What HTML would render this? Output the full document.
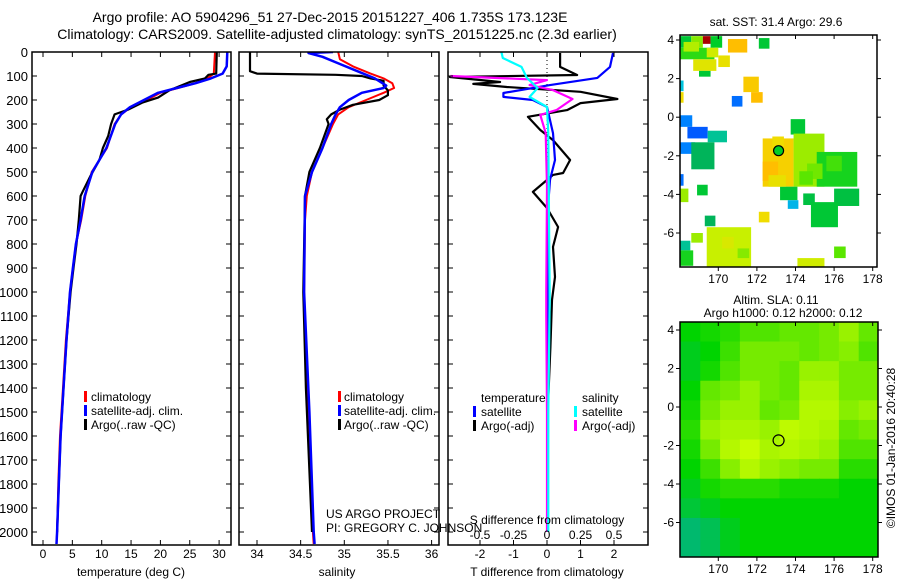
<!DOCTYPE html>
<html><head><meta charset="utf-8"><style>
html,body{margin:0;padding:0;background:#fff;}
svg{display:block;font-family:"Liberation Sans",Arial,sans-serif;}
text{fill:#000;}
</style></head><body>
<svg id="fig" width="900" height="580" viewBox="0 0 900 580" xmlns="http://www.w3.org/2000/svg">
<defs>
<clipPath id="c1"><rect x="32" y="52" width="199" height="493"/></clipPath>
<clipPath id="c2"><rect x="239" y="52" width="200" height="493"/></clipPath>
<clipPath id="c3"><rect x="448" y="52" width="200" height="493"/></clipPath>
<clipPath id="c4"><rect x="680" y="35" width="197" height="232"/></clipPath>
<clipPath id="c5"><rect x="680" y="322" width="198" height="235"/></clipPath>
</defs>
<text x="330" y="22" font-size="14" text-anchor="middle">Argo profile: AO 5904296_51 27-Dec-2015 20151227_406 1.735S 173.123E</text>
<text x="337" y="39" font-size="14" text-anchor="middle">Climatology: CARS2009. Satellite-adjusted climatology: synTS_20151225.nc (2.3d earlier)</text>
<g id="g1"></g>
<g id="g2"></g>
<g id="g3"></g>
<g id="g4"></g>
<g id="g5"></g>
</svg>
<script>
// ---------- data ----------
const depthTicks = [0,100,200,300,400,500,600,700,800,900,1000,1100,1200,1300,1400,1500,1600,1700,1800,1900,2000];
const tempTicks = [0,5,10,15,20,25,30];
const salTicks = [34,34.5,35,35.5,36];
const tdiffTicks = [-2,-1,0,1,2];
const sdiffTicks = [-0.5,-0.25,0,0.25,0.5];
const sdiffTickLabels = ["-0.5","-0.25","0","0.25","0.5"];

const tClimDepth = [0,90,110,130,150,170,200,230,260,300,400,500,600,700,800,900,1000,1200,1400,1600,1800,2000,2050];
const tClim = [29.3,29.1,28,26,23,20,17.7,15,13.3,12.2,10.9,8.3,7.2,6.5,5.6,5.1,4.6,3.9,3.4,2.9,2.6,2.4,2.3];
const tSatDepth = [0,60,90,110,130,150,170,200,230,260,300,400,500,600,700,800,900,1000,1200,1400,1600,1800,2000,2050];
const tSat = [31.4,31.3,30.6,28.6,26,22.8,19.6,17.2,14.8,13.3,12.3,10.8,8.4,7.1,6.4,5.6,5.1,4.6,4.0,3.5,3.0,2.7,2.4,2.3];
const tArgoDepth = [0,90,95,110,125,140,160,190,210,240,260,300,350,400,450,520,580,600,700,800,900,1000,1200,1400,1600,1800,2000];
const tArgo = [29.6,29.5,28.2,27.6,25,23.5,21.5,19.6,17,14.5,12.2,11.6,11.1,10.2,9.6,8.0,6.8,6.4,6.1,5.7,5.2,4.7,4.0,3.5,3.0,2.7,2.4];

const sClimDepth = [0,30,60,90,110,130,150,170,200,230,260,300,400,500,600,700,1000,1400,1600,1800,2000,2050];
const sClim = [34.93,34.95,35.1,35.3,35.45,35.55,35.57,35.45,35.25,35.05,34.93,34.87,34.75,34.63,34.57,34.55,34.54,34.57,34.6,34.61,34.64,34.65];
const sSatDepth = [0,4,20,50,80,110,140,150,170,200,230,260,300,400,500,600,1000,1500,2000,2050];
const sSat = [34.87,34.59,34.75,34.95,35.15,35.35,35.48,35.45,35.2,35.05,34.95,34.9,34.85,34.75,34.63,34.55,34.54,34.6,34.65,34.66];
const sArgoDepth = [0,80,90,95,100,110,120,140,160,180,200,220,240,260,280,300,400,500,600,1000,1400,2000];
const sArgo = [33.92,33.92,34.0,34.9,35.2,35.3,35.45,35.45,35.5,35.5,35.4,35.1,34.95,34.85,34.8,34.82,34.72,34.6,34.55,34.53,34.56,34.63];

const dtArgoDepth = [4,62,96,104,125,133,146,166,196,213,242,270,325,367,450,504,512,583,650,729,812,937,1033,1230,1500,2000];
const dtArgo = [0.39,0.39,0.9,-2.9,-1.4,-2.2,-1.2,1.0,2.1,1.0,0.6,-0.57,-0.2,0.18,0.69,0.48,0.18,-0.42,0,0.33,0.18,0.24,0.15,0.1,0.02,0.02];
const dtSatDepth = [4,62,108,138,171,187,200,229,338,450,533,646,1000,1500,2000];
const dtSat = [1.97,1.88,1.5,0.09,-1.3,-1.3,-0.42,0,0.18,0.24,0.09,0.03,0.02,0.03,0.02];
const dsArgoDepth = [100,117,138,158,196,242,262,338,562,1000,1100,1500,2000];
const dsArgo = [-0.72,0,-0.13,0.04,0.19,0.07,-0.05,-0.01,0,-0.005,-0.005,0,0];
const dsSatDepth = [0,25,62,108,150,187,229,338,1033,1500,2000];
const dsSat = [-0.34,-0.33,-0.19,-0.15,-0.07,-0.13,0,0.01,0.02,0.01,0.01];

// SST map patches: [lon_left, lat_top, width_deg, height_deg, sst]
const sstLon = [168.0,168.6,169.2,169.6,168.0,168.7,170.0,169.0,170.5,172.1,171.3,171.7,170.7,168.0,168.0,168.0,168.4,169.45,168.0,168.6,168.0,168.0,168.9,169.3,168.0,168.0,168.6,169.4,172.1,174.1,176.0,172.3,172.3,173.75,173.9,175.1,173.2,173.6,174.4,176.0,174.8,168.2,169.4,172.6,174.6,170.2,171.0,172.8,174.2,175.6];
const sstLat = [4.2,4.2,4.2,4.2,3.6,3.0,3.2,2.4,4.05,4.1,2.1,1.3,1.1,1.9,1.3,0.1,-0.5,-0.7,-1.3,-1.3,-2.95,-3.7,-3.5,-5.1,-6.4,-6.9,-6.0,-5.7,-4.9,-7.3,-6.7,-1.1,-2.3,-0.1,-0.85,-1.8,-3.6,-4.3,-3.95,-3.7,-4.4,3.9,3.6,-3.0,-2.4,-6.2,-6.8,-1.0,-2.8,-2.0];
const sstW = [0.6,0.6,0.4,0.6,1.8,1.2,0.6,0.6,1.0,0.55,0.8,0.6,0.55,0.2,0.2,0.65,1.05,1.0,0.8,1.2,0.2,0.45,0.55,0.55,0.55,0.7,0.6,2.3,0.55,1.4,0.6,1.6,0.8,0.75,1.6,2.1,0.9,0.55,0.6,1.3,1.4,0.8,0.6,0.9,0.8,0.6,0.6,0.6,0.7,0.8];
const sstH = [0.6,0.6,0.4,0.6,0.6,0.6,0.6,0.3,0.7,0.55,0.8,0.55,0.55,0.55,0.55,0.6,0.6,0.6,0.6,1.4,0.6,0.7,0.55,0.55,0.5,0.8,0.5,2.1,0.55,0.5,0.6,2.5,1.0,0.8,2.75,1.8,0.7,0.45,0.6,0.9,1.3,0.5,0.5,0.6,0.8,0.6,0.5,0.6,0.7,0.8];
const sstVal = [29.5,30.2,32.5,29.6,29.8,30.8,30.9,29.5,31.5,29.5,31.3,31.5,28.0,28.7,31.0,28.2,27.8,29.0,28.2,29.2,28.0,30.3,29.5,29.2,29.0,29.7,30.3,30.5,31.0,30.6,30.0,31.2,31.5,29.5,30.3,29.7,29.5,28.6,29.4,29.4,29.5,30.4,30.6,30.9,30.1,30.7,30.2,31.0,30.0,29.9];

// SLA grid rows (north to south), columns west to east
const slaGrid = [
 [0.2,0.25,0.3,0.4,0.4,0.45,0.45,0.5,0.6,0.45],
 [0.15,0.2,0.35,0.5,0.5,0.5,0.45,0.5,0.55,0.4],
 [0.15,0.25,0.4,0.5,0.5,0.45,0.6,0.6,0.5,0.5],
 [0.2,0.45,0.5,0.6,0.5,0.45,0.65,0.65,0.5,0.5],
 [0.25,0.5,0.6,0.6,0.45,0.5,0.7,0.7,0.55,0.6],
 [0.3,0.6,0.65,0.65,0.6,0.75,0.7,0.65,0.45,0.5],
 [0.25,0.5,0.7,0.8,0.65,0.7,0.65,0.6,0.4,0.4],
 [0.2,0.35,0.55,0.7,0.6,0.55,0.5,0.5,0.3,0.3],
 [0.15,0.25,0.3,0.3,0.3,0.25,0.25,0.25,0.2,0.2],
 [0.1,0.15,0.2,0.2,0.2,0.2,0.2,0.2,0.2,0.2],
 [0.0,0.05,0.15,0.2,0.2,0.2,0.2,0.2,0.2,0.2],
 [0.0,0.05,0.15,0.2,0.2,0.2,0.2,0.2,0.2,0.2]
];
const mapLonTicks = [170,172,174,176,178];
const mapLatTicks = [4,2,0,-2,-4,-6];
const argoLon = 173.123, argoLat = -1.735;

// ---------- helpers ----------
const NS = "http://www.w3.org/2000/svg";
function mk(tag, parent, attrs){ const e=document.createElementNS(NS,tag); for(const k in attrs) e.setAttribute(k,attrs[k]); parent.appendChild(e); return e; }
function txt(parent, x, y, s, size, anchor){ const t=mk('text',parent,{x:x,y:y,'font-size':size||12,'text-anchor':anchor||'middle'}); t.textContent=s; return t; }
const yD = d => 52 + d*0.24;
const xT = t => 43 + t*5.87;
const xS = s => 257 + (s-34)*87.3;
const xDT = v => 547 + v*33.5;
const xDS = v => 547 + v*134;
const mX1 = lon => 718.3 + (lon-170)*19.3;
const mY1 = lat => 117.2 - lat*19.3;
const mX2 = lon => 718.3 + (lon-170)*19.3;
const mY2 = lat => 407 - lat*19.25;

function line(parent, xs, ds, xf, color, w, clip, name){
  const pts = xs.map((v,i)=> xf(v).toFixed(1)+','+yD(ds[i]).toFixed(1)).join(' ');
  const p = mk('polyline',parent,{points:pts,fill:'none',stroke:color,'stroke-width':w,'clip-path':'url(#'+clip+')','stroke-linejoin':'round'});
  
  
}
function frame(parent,x,y,w,h){ mk('rect',parent,{x:x,y:y,width:w,height:h,fill:'none',stroke:'#000','stroke-width':1.5}); }
function yTicks(parent,x0,x1,labels){
  depthTicks.forEach(d=>{ const y=yD(d);
    mk('line',parent,{x1:x0,y1:y,x2:x0+5,y2:y,stroke:'#000'});
    mk('line',parent,{x1:x1-5,y1:y,x2:x1,y2:y,stroke:'#000'});
    if(labels){ const t=txt(parent,28,y+5,String(d),13,'end');
        }
  });
}
function xTicks(parent,ticks,xf,labels){
  ticks.forEach((v,i)=>{ const x=xf(v);
    mk('line',parent,{x1:x,y1:545,x2:x,y2:540,stroke:'#000'});
    mk('line',parent,{x1:x,y1:52,x2:x,y2:57,stroke:'#000'});
    const t=txt(parent,x,558,labels?labels[i]:String(v),12);
     
  });
}
function legendBar(parent,x,y,color){ mk('rect',parent,{x:x,y:y-10,width:3,height:11,fill:color}); }

// ---------- panel 1 ----------
const g1=document.getElementById('g1');
line(g1,tClim,tClimDepth,xT,'#f00',2,'c1','temp-climatology-line');
line(g1,tArgo,tArgoDepth,xT,'#000',2.2,'c1','temp-argo-line');
line(g1,tSat,tSatDepth,xT,'#00f',2.5,'c1','temp-satellite-line');
frame(g1,32,52,199,493); yTicks(g1,32,231,true); xTicks(g1,tempTicks,xT);
let t=txt(g1,131,576,'temperature (deg C)',12);  
[['#f00','climatology'],['#00f','satellite-adj. clim.'],['#000','Argo(..raw -QC)']].forEach((e,i)=>{ legendBar(g1,84,401+i*14,e[0]); const l=txt(g1,91,401+i*14,e[1],12,'start');   });

// ---------- panel 2 ----------
const g2=document.getElementById('g2');
line(g2,sClim,sClimDepth,xS,'#f00',2,'c2','sal-climatology-line');
line(g2,sArgo,sArgoDepth,xS,'#000',2.2,'c2','sal-argo-line');
line(g2,sSat,sSatDepth,xS,'#00f',2.5,'c2','sal-satellite-line');
frame(g2,239,52,200,493); yTicks(g2,239,439,false); xTicks(g2,salTicks,xS);
t=txt(g2,337,576,'salinity',12);  
[['#f00','climatology'],['#00f','satellite-adj. clim.'],['#000','Argo(..raw -QC)']].forEach((e,i)=>{ legendBar(g2,338,401+i*14,e[0]); const l=txt(g2,344,401+i*14,e[1],12,'start');   });

// ---------- panel 3 ----------
const g3=document.getElementById('g3');
for(let y=52;y<180;y+=4) mk('rect',g3,{x:546.5,y:y,width:1,height:1,fill:'#000'});
line(g3,dtArgo,dtArgoDepth,xDT,'#000',2.2,'c3','tdiff-argo-line');
line(g3,dtSat,dtSatDepth,xDT,'#00f',2.2,'c3','tdiff-satellite-line');
line(g3,dsArgo,dsArgoDepth,xDS,'#f0f',2.2,'c3','sdiff-argo-line');
line(g3,dsSat,dsSatDepth,xDS,'#0ff',2.2,'c3','sdiff-satellite-line');
frame(g3,448,52,200,493); yTicks(g3,448,648,false); xTicks(g3,tdiffTicks,xDT);
sdiffTicks.forEach((v,i)=>{ const l=txt(g3,xDS(v),539,sdiffTickLabels[i],12);   });
t=txt(g3,547,524,'S difference from climatology',12);  
t=txt(g3,547,576,'T difference from climatology',12);  
t=txt(g3,481,402,'temperature',12,'start');  
t=txt(g3,582,402,'salinity',12,'start');  
[['#00f','satellite',473,416],['#000','Argo(-adj)',473,430],['#0ff','satellite',574,416],['#f0f','Argo(-adj)',574,430]].forEach(e=>{ legendBar(g3,e[2],e[3],e[0]); const l=txt(g3,e[2]+8,e[3],e[1],12,'start');   });
const fig=document.getElementById('fig');
t=txt(fig,326,518,'US ARGO PROJECT',12,'start');  
t=txt(fig,326,532,'PI: GREGORY C. JOHNSON',12,'start');  

// ---------- maps ----------
function sstColor(v){
  const stops=[[27.8,[0,90,255]],[28.4,[0,150,255]],[28.8,[0,210,210]],[29.2,[0,180,90]],[29.6,[0,205,40]],[30.0,[90,230,0]],[30.5,[200,240,0]],[31.0,[240,220,0]],[31.5,[255,190,0]],[32.0,[240,110,0]],[32.5,[170,0,0]]];
  if(v<=stops[0][0]) return 'rgb('+stops[0][1]+')';
  for(let i=1;i<stops.length;i++){ if(v<=stops[i][0]){ const a=stops[i-1],b=stops[i],f=(v-a[0])/(b[0]-a[0]); return 'rgb('+a[1].map((c,k)=>Math.round(c+(b[1][k]-c)*f)).join(',')+')'; } }
  return 'rgb(170,0,0)';
}
function slaColor(v){
  const stops=[[0,[0,185,110]],[0.2,[0,212,0]],[0.45,[100,232,0]],[0.65,[170,245,0]],[0.85,[210,255,0]]];
  for(let i=1;i<stops.length;i++){ if(v<=stops[i][0]){ const a=stops[i-1],b=stops[i],f=(v-a[0])/(b[0]-a[0]); return 'rgb('+a[1].map((c,k)=>Math.round(c+(b[1][k]-c)*f)).join(',')+')'; } }
  return 'rgb(210,255,0)';
}
function mapAxes(g,x0,y0,w,h,xf,yf,xlabY){
  mapLonTicks.forEach(lon=>{ const x=xf(lon);
    mk('line',g,{x1:x,y1:y0,x2:x,y2:y0+4,stroke:'#000'}); mk('line',g,{x1:x,y1:y0+h,x2:x,y2:y0+h+4,stroke:'#000'});
    const l=txt(g,x,xlabY,String(lon),12);   });
  mapLatTicks.forEach(lat=>{ const y=yf(lat);
    mk('line',g,{x1:x0-4,y1:y,x2:x0,y2:y,stroke:'#000'}); mk('line',g,{x1:x0+w,y1:y,x2:x0+w+4,y2:y,stroke:'#000'});
    const l=txt(g,x0-6,y+4,String(lat),12,'end');   });
  frame(g,x0,y0,w,h);
}
const g4=document.getElementById('g4');
const sstG=mk('g',g4,{'clip-path':'url(#c4)'});
sstLon.forEach((lon,i)=>{
  const r=mk('rect',sstG,{x:mX1(lon),y:mY1(sstLat[i]),width:sstW[i]*19.3,height:sstH[i]*19.3,fill:sstColor(sstVal[i])});
   
});
let c=mk('circle',g4,{cx:mX1(argoLon),cy:mY1(argoLat),r:5,fill:sstColor(29.6),stroke:'#000','stroke-width':1.2});
 
mapAxes(g4,680,35,197,232,mX1,mY1,283);
t=txt(g4,776,26,'sat. SST: 31.4 Argo: 29.6',12);  

const g5=document.getElementById('g5');
const slaG=mk('g',g5,{'clip-path':'url(#c5)'});
const nR=slaGrid.length, nC=slaGrid[0].length, latTop=4.42, latBot=-7.8, lonL=168.04, lonR=178.3;
slaGrid.forEach((row,ri)=>row.forEach((v,ci)=>{
  const la=latTop-(latTop-latBot)*ri/nR, lo=lonL+(lonR-lonL)*ci/nC;
  const r=mk('rect',slaG,{x:mX2(lo),y:mY2(la),width:(lonR-lonL)/nC*19.3+0.6,height:(latTop-latBot)/nR*19.25+0.6,fill:slaColor(v)});
   
}));
c=mk('circle',g5,{cx:mX2(argoLon),cy:mY2(argoLat),r:5.5,fill:'none',stroke:'#000','stroke-width':1.2});
 
mapAxes(g5,680,322,198,235,mX2,mY2,573);
t=txt(g5,776,304,'Altim. SLA: 0.11',12);  
t=txt(g5,783,317,'Argo h1000: 0.12 h2000: 0.12',12);  
t=mk('text',fig,{x:0,y:0,'font-size':12,'text-anchor':'middle',transform:'translate(895,448) rotate(-90)'}); t.textContent='©IMOS 01-Jan-2016 20:40:28';
 
</script>
</body></html>
